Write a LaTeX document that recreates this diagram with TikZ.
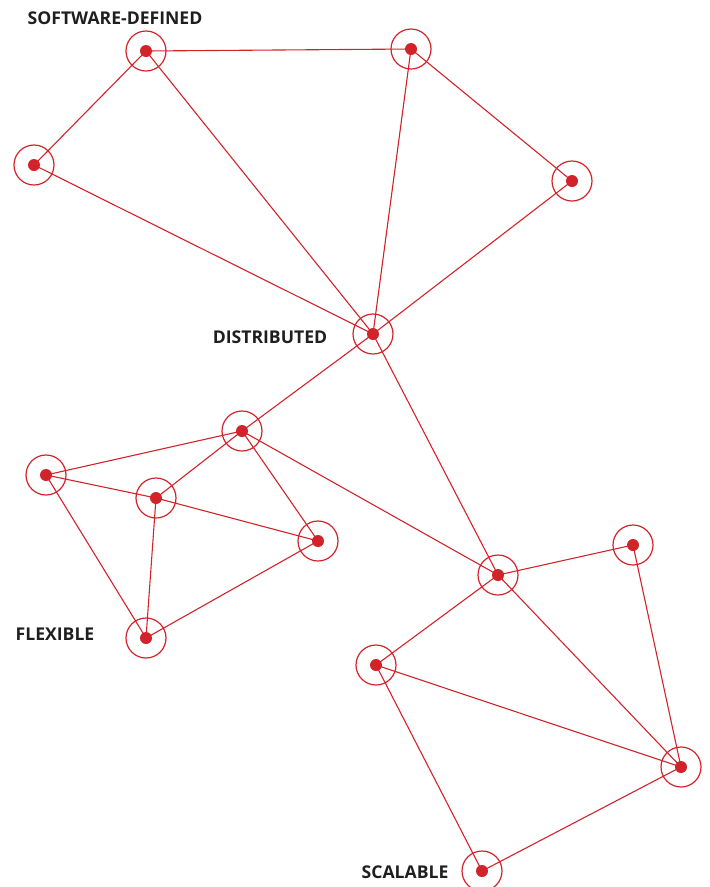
\documentclass[tikz,border=0pt]{standalone}
\usepackage{fontspec}
\setmainfont{Open Sans}
\definecolor{netred}{HTML}{D2232A}
\begin{document}
\begin{tikzpicture}[x=1pt,y=-1pt,
  hub/.style={circle,draw=netred,line width=1.2pt,minimum size=40pt,inner sep=0pt},
  dot/.style={circle,fill=netred,minimum size=12pt,inner sep=0pt},
  link/.style={draw=netred,line width=1.1pt},
  lbl/.style={font=\fontsize{17.6}{19}\selectfont\bfseries,text=black!88,inner sep=0pt}]
\useasboundingbox (0,0) rectangle (710,887);
\foreach \n/\x/\y in {a/146/51,b/411/49,c/34/165,d/572/181,e/373/334,f/242/431,g/46/475,h/156/498,i/318/541,j/146/638,k/498/575,l/633/545,m/376/665,n/681/767,o/482/871}{
  \node[hub] (\n r) at (\x,\y) {};
  \node[dot] (\n) at (\x,\y) {};
}
\foreach \p/\q in {a/b,a/c,a/e,b/e,b/d,c/e,d/e,e/f,e/k,f/g,f/h,f/i,f/k,g/h,g/j,h/i,h/j,j/i,k/l,k/m,k/n,l/n,m/n,m/o,o/n}{
  \draw[link] (\p.center) -- (\q.center);
}
\node[lbl] (t1) at (115,18) {SOFTWARE-DEFINED};
\node[lbl] (t2) at (270,337) {DISTRIBUTED};
\node[lbl] (t3) at (55,634) {FLEXIBLE};
\node[lbl] (t4) at (405,872) {SCALABLE};
\end{tikzpicture}
\end{document}
